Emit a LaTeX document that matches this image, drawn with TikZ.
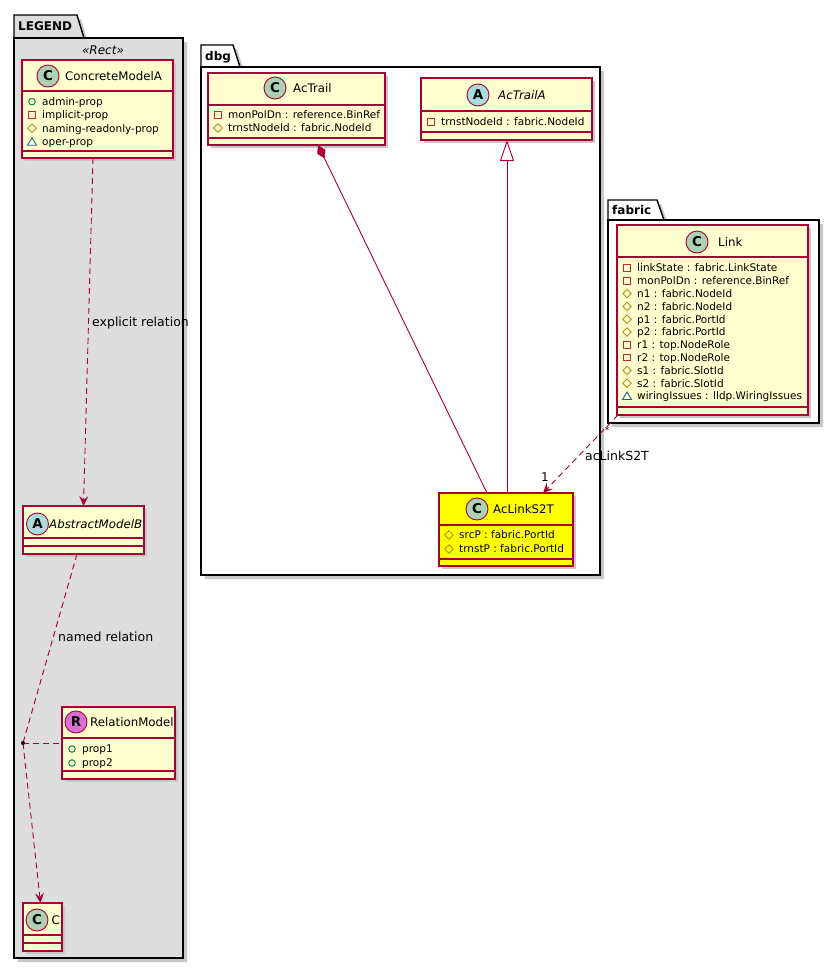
\documentclass[tikz,border=0pt]{standalone}
\usepackage{fontspec}
\setmainfont{DejaVu Sans}
\usetikzlibrary{arrows.meta,calc}
\definecolor{umlred}{HTML}{A80036}
\definecolor{clsfill}{HTML}{FEFECE}
\definecolor{pkgfill}{HTML}{DDDDDD}
\definecolor{circC}{HTML}{ADD1B2}
\definecolor{circA}{HTML}{A9DCDF}
\definecolor{circR}{HTML}{DA70D6}
\definecolor{icpubc}{HTML}{038048}
\definecolor{icprivc}{HTML}{C82930}
\definecolor{icprotc}{HTML}{B38D22}
\definecolor{icpkgc}{HTML}{1963A0}
\definecolor{linkyellow}{HTML}{FFFF00}
\tikzset{
  clsbox/.style={draw=umlred, line width=1.1pt, inner sep=0pt, outer sep=0pt, anchor=north west},
  sepline/.style={draw=umlred, line width=1.1pt},
  clsshadow/.style={fill=black!22},
  pkgshadow/.style={fill=black!22},
  pkgline/.style={draw=black, line width=1.4pt},
  pkglabel/.style={inner sep=0pt, font=\fontsize{12}{14}\selectfont\bfseries},
  badge/.style={circle, draw=umlred, line width=0.9pt, minimum size=22pt, inner sep=0pt, font=\fontsize{13.5}{13}\selectfont\bfseries},
  clsname/.style={inner sep=0pt, font=\fontsize{11.8}{13}\selectfont},
  attrtext/.style={inner sep=0pt, font=\fontsize{10.5}{12}\selectfont},
  lbl/.style={inner sep=0pt, font=\fontsize{12.5}{14}\selectfont},
  rel/.style={draw=umlred, line width=0.9pt},
  dashrel/.style={rel, dash pattern=on 6pt off 4pt},
  arr/.style={-{Stealth[length=10pt, width=9pt, inset=4pt]}},
}
\newcommand\umlcls[8]{%
  \fill[clsshadow] ({#2+3},{#3+3}) rectangle ({#4+3},{#5+3});
  \node[clsbox, fill=#8, minimum width={(#4-#2)*1pt}, minimum height={(#5-#3)*1pt}] (#1) at (#2,#3) {};
  \draw[sepline] (#2,#6) -- (#4,#6) (#2,#7) -- (#4,#7);
}
\newcommand\clstitle[7]{%
  \node[badge, fill=#5] (#1-badge) at (#2,#3) {#4};
  \node[clsname, anchor=base west] (#1-title) at (#6,{#3+4.2}) {#7};
}
\newcommand\icpub[2]{\draw[icpubc, line width=0.9pt] ({#1},{#2}) circle[radius=3.3pt];}
\newcommand\icpriv[2]{\draw[icprivc, line width=0.9pt] ({#1-3.2},{#2-3.2}) rectangle ({#1+3.2},{#2+3.2});}
\newcommand\icprot[2]{\draw[icprotc, line width=0.9pt] ({#1},{#2-4.2}) -- ({#1+4.2},{#2}) -- ({#1},{#2+4.2}) -- ({#1-4.2},{#2}) -- cycle;}
\newcommand\icpkg[2]{\draw[icpkgc, line width=0.9pt] ({#1},{#2-4}) -- ({#1+4.5},{#2+3.5}) -- ({#1-4.5},{#2+3.5}) -- cycle;}
\newcommand\attr[5]{%
  \csname ic#4\endcsname{#2+10}{#3}
  \node[attrtext, anchor=base west] (#1) at ({#2+20},{#3+3.9}) {#5};
}
\newcommand\umlpkg[9]{%
  \fill[pkgshadow] ({#2+4},{#3+4}) -- ({#4+4},{#3+4}) -- ({#4+11},{#5+4}) -- ({#6+4},{#5+4}) -- ({#6+4},{#7+4}) -- ({#2+4},{#7+4}) -- cycle;
  \filldraw[pkgline, fill=#8] (#2,#5) -- (#2,#3) -- (#4,#3) -- ({#4+7},#5) -- cycle;
  \filldraw[pkgline, fill=#8] (#2,#5) rectangle (#6,#7);
  \node[pkglabel, anchor=base west] (#1) at ({#2+4},{(#3+#5)/2+4.4}) {#9};
}
\begin{document}
\begin{tikzpicture}[x=1pt,y=-1pt]
\useasboundingbox (0,0) rectangle (839,970);
\fill[white] (0,0) rectangle (839,970);

% packages
\umlpkg{legend}{14}{15}{77}{38}{183}{958}{pkgfill}{LEGEND}
\umlpkg{dbg}{201}{45}{233}{67}{600}{575}{white}{dbg}
\umlpkg{fabric}{608}{200}{657}{220}{819}{423}{white}{fabric}
\node[inner sep=0pt, font=\fontsize{12}{14}\selectfont\itshape] (stereo) at (103,50) {«Rect»};

% LEGEND classes
\umlcls{ConcreteModelA}{22}{60}{173}{158}{91}{151}{clsfill}
\clstitle{ConcreteModelA}{48}{76}{C}{circC}{65}{ConcreteModelA}
\attr{cma1}{22}{101.7}{pub}{admin-prop}
\attr{cma2}{22}{115}{priv}{implicit-prop}
\attr{cma3}{22}{128.3}{prot}{naming-readonly-prop}
\attr{cma4}{22}{141.7}{pkg}{oper-prop}

\umlcls{AbstractModelB}{23}{506}{144}{554}{538}{546}{clsfill}
\clstitle{AbstractModelB}{37.5}{524}{A}{circA}{49}{\itshape AbstractModelB}

\umlcls{RelationModel}{62}{707}{175}{779}{738}{771}{clsfill}
\clstitle{RelationModel}{76}{722}{R}{circR}{90}{RelationModel}
\attr{rm1}{62}{749}{pub}{prop1}
\attr{rm2}{62}{763}{pub}{prop2}

\umlcls{C}{23}{903}{62}{951}{935}{943}{clsfill}
\clstitle{C}{37}{920}{C}{circC}{51.5}{C}

% dbg classes
\umlcls{AcTrail}{208}{73}{385}{145}{105}{138}{clsfill}
\clstitle{AcTrail}{275}{88}{C}{circC}{293}{AcTrail}
\attr{act1}{208}{115}{priv}{monPolDn : reference.BinRef}
\attr{act2}{208}{128}{prot}{trnstNodeId : fabric.NodeId}

\umlcls{AcTrailA}{421}{78}{592}{140}{111}{132}{clsfill}
\clstitle{AcTrailA}{478}{95}{A}{circA}{498}{\itshape AcTrailA}
\attr{acta1}{421}{122}{priv}{trnstNodeId : fabric.NodeId}

\umlcls{AcLinkS2T}{439}{493}{573}{566}{525}{559}{linkyellow}
\clstitle{AcLinkS2T}{477}{509}{C}{circC}{493}{AcLinkS2T}
\attr{acl1}{439}{535}{prot}{srcP : fabric.PortId}
\attr{acl2}{439}{549}{prot}{trnstP : fabric.PortId}

% fabric class
\umlcls{Link}{617}{225}{808}{415}{257}{407}{clsfill}
\clstitle{Link}{697}{242}{C}{circC}{718}{Link}
\attr{lk1}{617}{268}{priv}{linkState : fabric.LinkState}
\attr{lk2}{617}{280.8}{priv}{monPolDn : reference.BinRef}
\attr{lk3}{617}{293.6}{prot}{n1 : fabric.NodeId}
\attr{lk4}{617}{306.4}{prot}{n2 : fabric.NodeId}
\attr{lk5}{617}{319.2}{prot}{p1 : fabric.PortId}
\attr{lk6}{617}{332}{prot}{p2 : fabric.PortId}
\attr{lk7}{617}{344.8}{priv}{r1 : top.NodeRole}
\attr{lk8}{617}{357.6}{priv}{r2 : top.NodeRole}
\attr{lk9}{617}{370.4}{prot}{s1 : fabric.SlotId}
\attr{lk10}{617}{383.2}{prot}{s2 : fabric.SlotId}
\attr{lk11}{617}{396}{pkg}{wiringIssues : lldp.WiringIssues}

% connectors
\draw[dashrel, arr] ([xshift=-4.5pt]ConcreteModelA.south) -- (AbstractModelB.north);
\node[lbl, anchor=base west] (lblexplicit) at (92,326.5) {explicit relation};

\coordinate (dot) at (23,743);
\draw[dashrel] ([xshift=-6.5pt]AbstractModelB.south) -- (dot);
\draw[dashrel, arr] (dot) -- ([xshift=-2pt]C.north);
\draw[dashrel] (dot) -- (RelationModel.west);
\fill[black] (dot) circle[radius=2pt];
\node[lbl, anchor=base west] (lblnamed) at (58,641.5) {named relation};

\draw[rel, {Diamond[length=15pt, width=9pt]}-] ([xshift=21.5pt]AcTrail.south) -- ([xshift=-19pt]AcLinkS2T.north);
\draw[rel, {Triangle[open, length=21pt, width=14pt, fill=white]}-] ([xshift=0.5pt]AcTrailA.south) -- ([xshift=1pt]AcLinkS2T.north);

\draw[dashrel, arr] ([xshift=-94.5pt]Link.south) -- ([xshift=37pt]AcLinkS2T.north);
\node[lbl, anchor=base west] (lblacl) at (585,460.5) {acLinkS2T};
\node[inner sep=0pt, font=\fontsize{12}{14}\selectfont, anchor=base] (mult1) at (545,481.5) {1};
\node[inner sep=0pt, font=\fontsize{9}{10}\selectfont] (multstar) at (607,430) {*};
\end{tikzpicture}
\end{document}
